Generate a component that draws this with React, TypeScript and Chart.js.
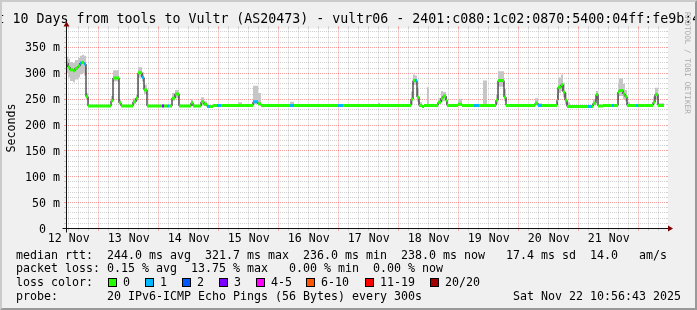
import { useEffect, useRef } from "react";
import { Chart, registerables } from "chart.js";

Chart.register(...registerables);

// ---------- data (hours since 12 Nov 00:00) ----------
const axisStartHour = 10.945; // Wed 12 Nov 10:56:43
const axisEndHour = 250.945; // Sat 22 Nov 10:56:43
const dataEndHour = 250.15;

const segStartHours = [
  10.95, 11.75, 12.55, 13.75, 14.55, 15.75, 16.55, 17.35, 18.15, 18.95,
  19.75, 28.95, 29.75, 32.15, 32.95, 37.75, 38.95, 39.75, 41.35, 42.15,
  43.35, 49.35, 50.15, 51.35, 52.15, 53.35, 54.55, 56.15, 60.95, 61.75,
  64.95, 66.15, 67.35, 68.55, 69.75, 71.35, 72.95, 79.75, 81.35, 85.75,
  87.75, 88.95, 100.55, 102.15, 119.75, 121.75, 135.75, 136.55, 148.95, 149.75,
  150.55, 151.35, 152.15, 153.35, 154.15, 155.35, 156.15, 159.75, 160.95, 161.75,
  162.95, 163.35, 167.75, 169.35, 174.15, 176.15, 177.75, 179.35, 182.95, 183.75,
  186.15, 186.95, 198.55, 199.75, 201.35, 207.35, 207.75, 208.95, 209.75, 210.55,
  211.35, 212.55, 219.75, 221.35, 221.75, 222.95, 223.75, 225.75, 229.35, 230.15,
  231.75, 232.15, 233.75, 234.55, 235.35, 236.55, 238.95, 239.75, 245.75, 246.55,
  247.75,
];
const medianMs = [
  320, 312, 307, 305, 310, 314, 320, 321, 318, 255,
  237, 247, 291, 243, 237, 245, 252, 301, 292, 268,
  237, 237, 237, 237, 237, 252, 260, 237, 243, 237,
  245, 240, 236, 236, 238, 238, 238, 238, 238, 245,
  241, 238, 238, 238, 238, 238, 238, 238, 250, 286,
  286, 254, 238, 236, 238, 238, 238, 244, 252, 256,
  248, 238, 240, 238, 238, 238, 238, 238, 248, 286,
  254, 238, 242, 238, 238, 248, 273, 278, 264, 248,
  236, 236, 236, 236, 242, 259, 237, 238, 238, 238,
  264, 267, 260, 255, 238, 238, 238, 238, 244, 259,
  238,
];
const lossCount = [
  0, 0, 0, 0, 0, 0, 1, 0, 1, 0,
  0, 0, 0, 0, 0, 0, 0, 0, 1, 0,
  0, 3, 0, 1, 0, 0, 0, 0, 0, 0,
  0, 0, 1, 0, 0, 1, 0, 0, 0, 1,
  0, 0, 1, 0, 1, 0, 0, 0, 0, 0,
  1, 0, 0, 0, 0, 0, 0, 0, 0, 0,
  0, 0, 0, 0, 1, 0, 0, 0, 0, 0,
  0, 0, 0, 1, 0, 0, 0, 0, 0, 0,
  0, 0, 1, 0, 0, 0, 0, 0, 1, 0,
  0, 0, 0, 0, 0, 0, 1, 0, 0, 0,
  0,
];
const smokeLowMs = [
  300, 292, 285, 283, 288, 292, 298, 300, 296, 250,
  236, 244, 284, 240, 236, 241, 246, 292, 284, 260,
  236, 236, 236, 236, 236, 247, 252, 236, 238, 236,
  238, 237, 235, 235, 237, 237, 237, 237, 237, 240,
  238, 237, 237, 237, 237, 237, 237, 237, 240, 278,
  278, 245, 237, 235, 237, 237, 237, 240, 244, 246,
  240, 237, 237, 237, 237, 237, 237, 237, 240, 274,
  246, 237, 238, 237, 237, 240, 262, 266, 254, 240,
  235, 235, 235, 235, 238, 250, 236, 237, 237, 237,
  250, 256, 250, 246, 237, 237, 237, 237, 239, 250,
  237,
];
const smokeHighMs = [
  332, 328, 322, 320, 326, 330, 334, 336, 334, 262,
  239, 256, 306, 250, 239, 252, 258, 312, 302, 278,
  239, 240, 239, 239, 240, 262, 268, 239, 250, 239,
  254, 246, 238, 238, 240, 240, 240, 244, 240, 276,
  262, 240, 245, 240, 240, 240, 243, 240, 265, 298,
  296, 272, 244, 238, 240, 273, 240, 252, 266, 264,
  256, 240, 251, 240, 240, 240, 286, 240, 258, 304,
  270, 240, 252, 242, 240, 258, 292, 298, 282, 262,
  244, 238, 238, 238, 250, 266, 239, 240, 240, 240,
  282, 290, 280, 268, 244, 240, 240, 240, 255, 272,
  242,
];

const dayLabels = ["12 Nov", "13 Nov", "14 Nov", "15 Nov", "16 Nov", "17 Nov", "18 Nov", "19 Nov", "20 Nov", "21 Nov"];
const dayLabelHours = [12, 36, 60, 84, 108, 132, 156, 180, 204, 228];
const yTickValues = [0, 50, 100, 150, 200, 250, 300, 350];
const yTickLabels = ["0  ", "50 m", "100 m", "150 m", "200 m", "250 m", "300 m", "350 m"];

const lossLegendLabels = ["0", "1", "2", "3", "4-5", "6-10", "11-19", "20/20"];
const lossLegendColors = ["#26ff00", "#00b8ff", "#0059ff", "#7e00ff", "#ff00ff", "#ff5500", "#ff0000", "#a00000"];

const titleText = "Last 10 Days from tools to Vultr (AS20473) - vultr06 - 2401:c080:1c02:0870:5400:04ff:fe9b:4";
const yAxisTitle = "Seconds";
const legendRow1 = "median rtt:  244.0 ms avg  321.7 ms max  236.0 ms min  238.0 ms now   17.4 ms sd  14.0   am/s";
const legendRow2 = "packet loss: 0.15 % avg  13.75 % max   0.00 % min  0.00 % now";
const legendRow3 = "loss color:";
const legendRow4 = "probe:       20 IPv6-ICMP Echo Pings (56 Bytes) every 300s";
const dateText = "Sat Nov 22 10:56:43 2025";
const watermark = "RRDTOOL / TOBI OETIKER";

// ---------- styling ----------
const W = 697;
const H = 310;
const MONO = "'DejaVu Sans Mono', monospace";
const SMALL = `11.63px ${MONO}`;
const TITLE = `13.29px ${MONO}`;
const GRID_MINOR = "rgba(143,143,143,0.42)";
const GRID_MAJOR = "rgba(240,0,0,0.38)";
const ARROW = "#7f0000";

function lossColorFor(k: number) {
  if (k <= 0) return lossLegendColors[0];
  if (k === 1) return lossLegendColors[1];
  if (k === 2) return lossLegendColors[2];
  if (k === 3) return lossLegendColors[3];
  if (k <= 5) return lossLegendColors[4];
  if (k <= 10) return lossLegendColors[5];
  if (k <= 19) return lossLegendColors[6];
  return lossLegendColors[7];
}

const decorPlugin = {
  id: "rrdDecor",
  beforeDraw(chart: any) {
    const { ctx, chartArea: a } = chart;
    ctx.save();
    ctx.fillStyle = "#f0f0f0";
    ctx.fillRect(0, 0, W, H);
    ctx.fillStyle = "#ffffff";
    ctx.fillRect(a.left, a.top, a.right - a.left + 2, a.bottom - a.top);
    ctx.restore();
  },
  afterDraw(chart: any) {
    const { ctx, chartArea: a, scales } = chart;
    const xs = scales.x;
    const ys = scales.y;
    ctx.save();
    ctx.lineWidth = 1;

    // tick stubs outside the plot
    ys.ticks.forEach((t: any) => {
      const y = Math.round(ys.getPixelForValue(t.value) - 0.5) + 0.5;
      const major = t.value % 50 === 0;
      ctx.strokeStyle = major ? GRID_MAJOR : GRID_MINOR;
      ctx.beginPath();
      ctx.moveTo(a.left - 2, y);
      ctx.lineTo(a.left, y);
      ctx.moveTo(a.right, y);
      ctx.lineTo(a.right + 2, y);
      ctx.stroke();
    });
    xs.ticks.forEach((t: any) => {
      const x = Math.round(xs.getPixelForValue(t.value) - 0.5) + 0.5;
      const major = t.value % 24 === 0;
      ctx.strokeStyle = major ? GRID_MAJOR : GRID_MINOR;
      ctx.beginPath();
      ctx.moveTo(x, a.bottom);
      ctx.lineTo(x, a.bottom + 2);
      ctx.moveTo(x, a.top - 2);
      ctx.lineTo(x, a.top);
      ctx.stroke();
    });

    // axes
    const x0 = Math.round(a.left) + 0.5;
    const y0 = Math.round(a.bottom - 0.5) + 0.5;
    ctx.strokeStyle = "#101010";
    ctx.beginPath();
    ctx.moveTo(x0 - 4, y0);
    ctx.lineTo(a.right + 4, y0);
    ctx.moveTo(x0, y0 + 4);
    ctx.lineTo(x0, a.top - 4);
    ctx.stroke();
    ctx.fillStyle = ARROW;
    ctx.beginPath();
    ctx.moveTo(a.right + 2, y0 - 3);
    ctx.lineTo(a.right + 2, y0 + 3);
    ctx.lineTo(a.right + 7, y0);
    ctx.closePath();
    ctx.fill();
    ctx.beginPath();
    ctx.moveTo(x0 - 3, a.top - 2);
    ctx.lineTo(x0 + 3, a.top - 2);
    ctx.lineTo(x0, a.top - 7);
    ctx.closePath();
    ctx.fill();

    // text
    ctx.fillStyle = "#000";
    ctx.font = TITLE;
    ctx.textAlign = "left";
    ctx.textBaseline = "alphabetic";
    ctx.fillText(titleText, -27.5, 23);

    ctx.font = SMALL;
    ctx.textAlign = "right";
    yTickValues.forEach((v, i) => {
      ctx.fillText(yTickLabels[i], 60, ys.getPixelForValue(v) + 4);
    });
    ctx.textAlign = "center";
    dayLabelHours.forEach((h, i) => {
      ctx.fillText(dayLabels[i], xs.getPixelForValue(h), 241.5);
    });

    ctx.save();
    ctx.translate(15, 128);
    ctx.rotate(-Math.PI / 2);
    ctx.textAlign = "center";
    ctx.fillText(yAxisTitle, 0, 0);
    ctx.restore();

    ctx.textAlign = "left";
    ctx.fillText(legendRow1, 16, 258.5);
    ctx.fillText(legendRow2, 16, 272.2);
    ctx.fillText(legendRow3, 16, 285.9);
    ctx.fillText(legendRow4, 16, 299.6);
    ctx.textAlign = "right";
    ctx.fillText(dateText, 681, 299.6);

    const boxX = [108, 145, 182, 219, 256, 306, 365, 430];
    ctx.textAlign = "left";
    lossLegendLabels.forEach((lab, i) => {
      ctx.fillStyle = lossLegendColors[i];
      ctx.fillRect(boxX[i], 278, 9, 9);
      ctx.strokeStyle = "#000";
      ctx.strokeRect(boxX[i] + 0.5, 278.5, 8, 8);
      ctx.fillStyle = "#000";
      ctx.fillText(lab, boxX[i] + 15, 285.9);
    });

    // watermark
    ctx.save();
    ctx.translate(685, 12);
    ctx.rotate(Math.PI / 2);
    ctx.fillStyle = "#a8a8a8";
    ctx.font = `7.7px ${MONO}`;
    ctx.textAlign = "left";
    ctx.fillText(watermark, 0, 0);
    ctx.restore();

    // frame
    ctx.fillStyle = "#cbcbcb";
    ctx.beginPath();
    ctx.moveTo(0, H);
    ctx.lineTo(2, H - 2);
    ctx.lineTo(2, 2);
    ctx.lineTo(W - 2, 2);
    ctx.lineTo(W, 0);
    ctx.lineTo(0, 0);
    ctx.closePath();
    ctx.fill();
    ctx.fillStyle = "#999999";
    ctx.beginPath();
    ctx.moveTo(2, H - 2);
    ctx.lineTo(W - 2, H - 2);
    ctx.lineTo(W - 2, 2);
    ctx.lineTo(W, 0);
    ctx.lineTo(W, H);
    ctx.lineTo(0, H);
    ctx.closePath();
    ctx.fill();
    ctx.restore();
  },
};

export default function App() {
  const ref = useRef<HTMLCanvasElement>(null);
  useEffect(() => {
    const canvas = ref.current;
    if (!canvas) return;
    const n = segStartHours.length;
    const segEnd = (i: number) => (i + 1 < n ? segStartHours[i + 1] : dataEndHour);
    const stepPts = (vals: number[]) =>
      segStartHours.map((h, i) => ({ x: h, y: vals[i] })).concat([{ x: dataEndHour, y: vals[n - 1] }]);
    const lossPts: any[] = [];
    segStartHours.forEach((h, i) => {
      lossPts.push({ x: h, y: medianMs[i], loss: lossCount[i] });
      lossPts.push({ x: segEnd(i), y: medianMs[i], loss: lossCount[i] });
      lossPts.push({ x: segEnd(i), y: null, loss: 0 });
    });

    const gridHours: number[] = [];
    for (let h = Math.ceil(axisStartHour / 4) * 4; h <= axisEndHour; h += 4) gridHours.push(h);
    const gridMs: number[] = [];
    for (let v = 0; v <= 380; v += 10) gridMs.push(v);

    const chart = new Chart(canvas, {
      type: "line",
      data: {
        datasets: [
          {
            data: stepPts(smokeHighMs),
            stepped: true,
            fill: "+1",
            backgroundColor: "#c6c6c6",
            borderColor: "rgba(0,0,0,0)",
            borderWidth: 0,
            pointRadius: 0,
            order: 5,
          },
          {
            data: stepPts(smokeLowMs),
            stepped: true,
            fill: false,
            borderColor: "rgba(0,0,0,0)",
            borderWidth: 0,
            pointRadius: 0,
            order: 6,
          },
          {
            data: stepPts(medianMs),
            stepped: true,
            fill: false,
            borderColor: "#000000",
            borderWidth: 1,
            pointRadius: 0,
            order: 2,
          },
          {
            data: lossPts,
            fill: false,
            spanGaps: false,
            borderWidth: 3,
            borderCapStyle: "butt",
            borderColor: lossLegendColors[0],
            pointRadius: 0,
            order: 1,
            segment: {
              borderColor: (c: any) => lossColorFor(lossPts[c.p0DataIndex].loss),
            },
          },
        ] as any,
      },
      options: {
        responsive: false,
        animation: false,
        devicePixelRatio: 1,
        events: [],
        layout: { padding: { left: 66, right: 31, top: 28.5, bottom: 81.5 } },
        plugins: { legend: { display: false }, tooltip: { enabled: false } },
        scales: {
          x: {
            type: "linear",
            min: axisStartHour,
            max: axisEndHour,
            afterBuildTicks: (s: any) => {
              s.ticks = gridHours.map((v) => ({ value: v }));
            },
            ticks: { display: false },
            border: { display: false, dash: [1, 1] },
            grid: {
              drawTicks: false,
              color: (c: any) => (c.tick && c.tick.value % 24 === 0 ? GRID_MAJOR : GRID_MINOR),
            },
          },
          y: {
            type: "linear",
            min: 0,
            max: 386.7,
            afterBuildTicks: (s: any) => {
              s.ticks = gridMs.map((v) => ({ value: v }));
            },
            ticks: { display: false },
            border: { display: false, dash: [1, 1] },
            grid: {
              drawTicks: false,
              color: (c: any) => (c.tick && c.tick.value % 50 === 0 ? GRID_MAJOR : GRID_MINOR),
            },
          },
        },
      } as any,
      plugins: [decorPlugin],
    });
    return () => chart.destroy();
  }, []);
  return (
    <canvas
      ref={ref}
      width={W}
      height={H}
      style={{ position: "fixed", left: 0, top: 0, display: "block", width: W, height: H }}
    />
  );
}
